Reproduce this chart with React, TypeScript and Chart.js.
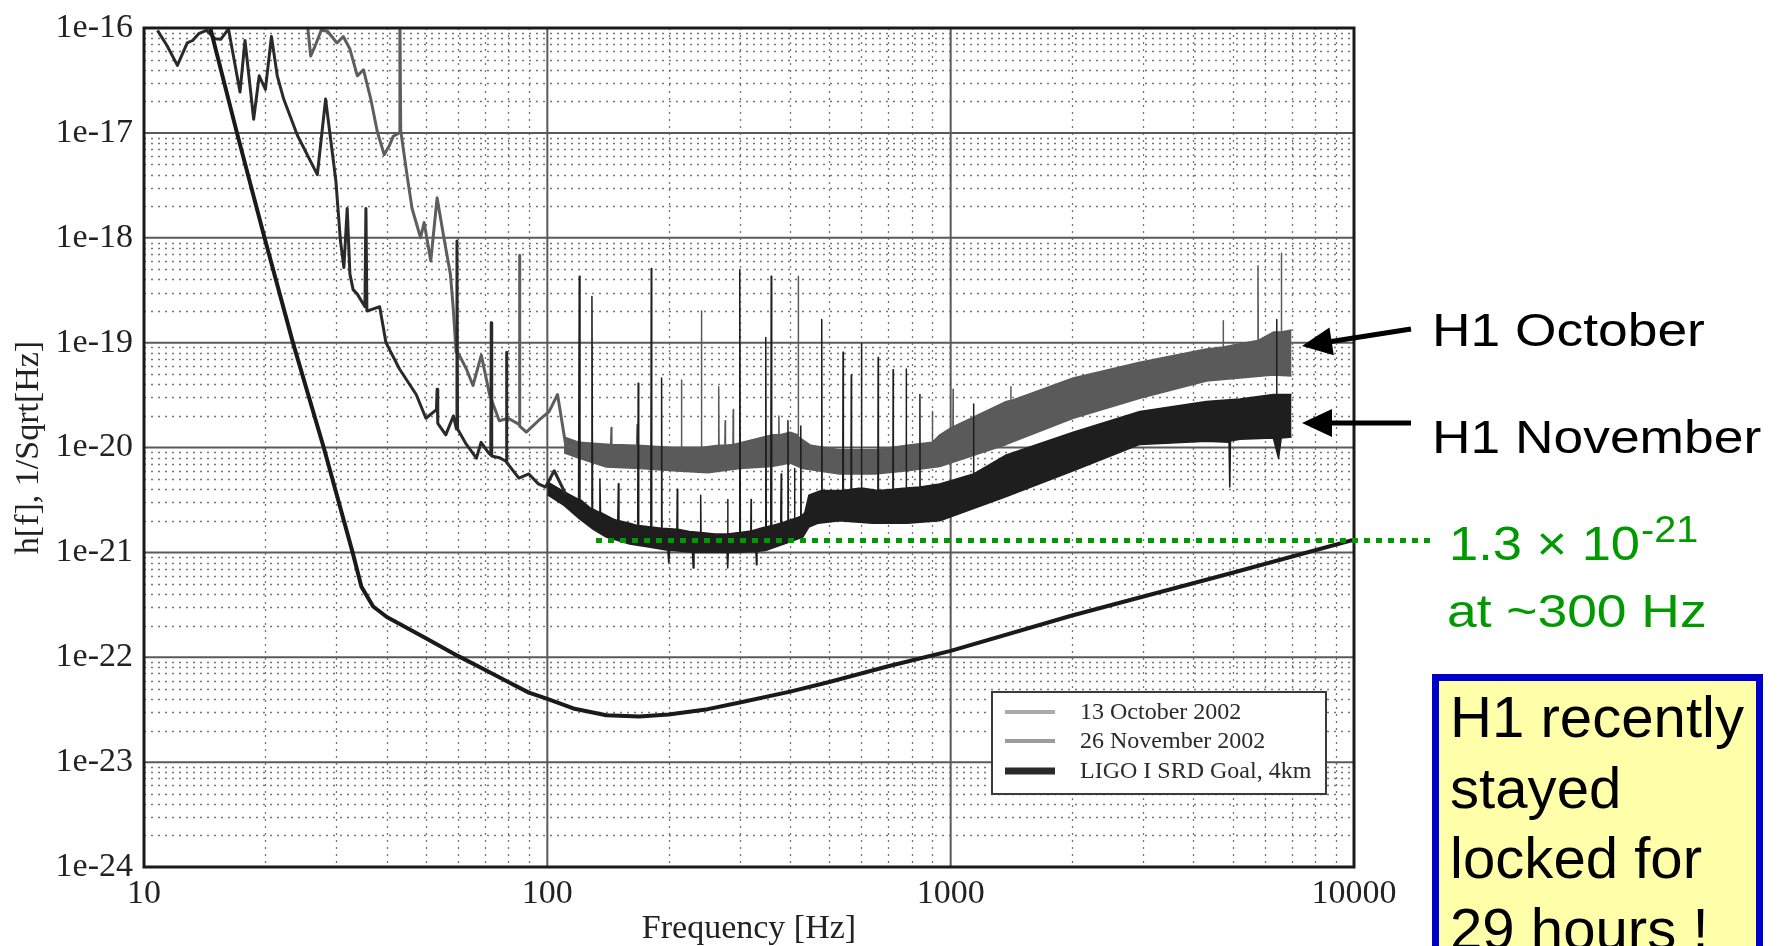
import { useEffect, useRef } from 'react';
import { Chart, registerables } from 'chart.js';

Chart.register(...registerables);

// ---------- axes ----------
const xTickValues = [10, 100, 1000, 10000];
const xTickLabels = ['10', '100', '1000', '10000'];
const yTickValues = [1e-24, 1e-23, 1e-22, 1e-21, 1e-20, 1e-19, 1e-18, 1e-17, 1e-16];
const yTickLabels = ['1e-24', '1e-23', '1e-22', '1e-21', '1e-20', '1e-19', '1e-18', '1e-17', '1e-16'];
const xTitle = 'Frequency [Hz]';
const yTitle = 'h[f], 1/Sqrt[Hz]';

// ---------- legend ----------
const seriesLabels = ['13 October 2002', '26 November 2002', 'LIGO I SRD Goal, 4km'];

// ---------- LIGO I SRD goal ----------
const goalPoints = [
  [14.6, 1.0e-16], [17.0, 1.0e-17], [19.9, 1.0e-18], [23.4, 1.0e-19], [27.9, 1.0e-20],
  [32.9, 1.0e-21], [34.6, 4.7e-22], [37.0, 3.05e-22], [40, 2.42e-22], [50, 1.52e-22],
  [60, 1.03e-22], [70, 7.6e-23], [80, 5.8e-23], [90, 4.6e-23], [100, 4.0e-23],
  [116, 3.25e-23], [140, 2.8e-23], [169, 2.72e-23], [200, 2.85e-23], [250, 3.2e-23],
  [300, 3.7e-23], [400, 4.7e-23], [500, 5.8e-23], [700, 8.2e-23], [1000, 1.15e-22],
  [2000, 2.5e-22], [5000, 6.4e-22], [10000, 1.32e-21],
];

// ---------- 26 November 2002 (H1) ----------
const novTrace = [
  [10.8, 9.5e-17], [11.4, 6.8e-17], [12.1, 4.4e-17], [12.8, 7.2e-17], [13.2, 7.6e-17],
  [13.7, 8.9e-17], [14.3, 9.5e-17], [15.0, 7.9e-17], [15.5, 7.8e-17], [16.2, 9.8e-17],
  [17.3, 2.45e-17], [17.8, 7.6e-17], [18.7, 1.35e-17], [19.3, 3.5e-17], [20.0, 2.6e-17],
  [20.7, 8.3e-17], [21.4, 3.5e-17], [22.2, 2.1e-17], [24.0, 9.5e-18], [26.9, 4.0e-18],
  [28.2, 2.1e-17], [29.9, 3.5e-18], [30.7, 9.3e-19], [31.3, 5.2e-19], [31.9, 1.9e-18],
  [32.4, 4.5e-19], [33.0, 3.2e-19], [33.8, 2.9e-19], [35.3, 2.2e-19], [35.5, 1.9e-18],
  [35.7, 2.0e-19], [38.4, 2.2e-19], [39.8, 1.0e-19], [43, 5.6e-20], [47.3, 3.2e-20],
  [50, 1.9e-20], [53.1, 2.3e-20], [53.3, 3.6e-20], [53.5, 1.7e-20], [56, 1.32e-20],
  [58.5, 2.0e-20], [59.5, 1.5e-20], [59.7, 9.3e-19], [59.9, 1.5e-20], [63, 1.07e-20],
  [66.7, 7.9e-21], [68.5, 1.12e-20], [71.5, 8.9e-21], [72.4, 8.5e-21], [72.6, 1.55e-19],
  [72.8, 8.3e-21], [76, 8.0e-21], [79.0, 7.4e-21], [79.2, 8.1e-20], [79.4, 7.2e-21],
  [85, 5.1e-21], [90, 5.6e-21], [95, 4.5e-21], [99, 4.2e-21], [104, 6.0e-21], [111, 3.6e-21],
];
const novUpper = [
  [100, 4.7e-21], [110, 3.8e-21], [119.5, 3.2e-21], [120, 4.3e-19], [120.5, 3.2e-21],
  [128.5, 2.6e-21], [129, 2.75e-19], [129.5, 2.6e-21], [134.5, 2.4e-21], [135, 5.0e-21],
  [135.5, 2.4e-21], [145, 2.1e-21], [149.5, 2.0e-21], [150, 4.5e-21], [150.5, 2.0e-21],
  [160, 1.9e-21], [167.5, 1.8e-21], [168, 4.1e-20], [168.5, 1.8e-21], [180.5, 1.75e-21],
  [181, 5.1e-19], [181.5, 1.75e-21], [191.5, 1.7e-21], [192, 4.6e-20], [192.5, 1.7e-21],
  [209.5, 1.66e-21], [210, 4.0e-21], [210.5, 1.66e-21], [225, 1.58e-21], [239.5, 1.55e-21],
  [240, 3.5e-21], [240.5, 1.55e-21], [260, 1.5e-21], [279.5, 1.5e-21], [280, 3.2e-21],
  [280.5, 1.5e-21], [299, 1.55e-21], [300, 4.9e-19], [301, 1.55e-21], [319.5, 1.6e-21],
  [320, 3.2e-21], [320.5, 1.6e-21], [347, 1.75e-21], [348, 1.12e-19], [349, 1.75e-21],
  [358, 1.8e-21], [359, 4.3e-19], [360, 1.8e-21], [379, 1.9e-21], [380, 5.6e-21],
  [381, 1.9e-21], [394, 2.0e-21], [395, 1.8e-20], [396, 2.0e-21], [409, 2.1e-21],
  [410, 6.3e-21], [411, 2.1e-21], [424, 2.2e-21], [425, 1.6e-20], [426, 2.2e-21],
  [435, 2.4e-21], [445, 3.5e-21], [478, 3.9e-21], [479, 1.66e-19], [480, 3.9e-21],
  [540, 3.9e-21], [541, 8.1e-20], [542, 3.9e-21], [566, 4.0e-21], [567, 4.9e-20],
  [568, 4.0e-21], [600, 4.1e-21], [601, 9.8e-20], [602, 4.1e-21], [660, 3.9e-21],
  [661, 7.2e-20], [662, 3.9e-21], [719, 4.0e-21], [720, 5.5e-20], [721, 4.0e-21],
  [775, 4.1e-21], [776, 5.6e-20], [777, 4.1e-21], [838, 4.2e-21], [839, 3.2e-20],
  [840, 4.2e-21], [940, 4.5e-21], [1139, 5.6e-21], [1140, 2.6e-20], [1141, 5.6e-21],
  [1374, 8.5e-21], [2013, 1.4e-20], [2945, 2.2e-20], [4306, 2.75e-20], [5210, 2.9e-20],
  [6310, 3.2e-20], [6420, 3.2e-20], [6430, 1.66e-19], [6440, 3.2e-20], [7000, 3.2e-20],
];
const novLower = [
  [100, 3.55e-21], [110, 2.8e-21], [120, 2.1e-21], [130, 1.66e-21], [140, 1.4e-21],
  [160, 1.2e-21], [180, 1.12e-21], [199, 1.05e-21], [200, 7.9e-22], [201, 1.05e-21],
  [229, 1.0e-21], [230, 7.1e-22], [231, 1.0e-21], [260, 1.0e-21], [279, 1.0e-21],
  [280, 7.1e-22], [281, 1.0e-21], [300, 1.0e-21], [329, 1.02e-21], [330, 7.6e-22],
  [331, 1.02e-21], [350, 1.05e-21], [400, 1.26e-21], [430, 1.4e-21], [445, 1.74e-21],
  [470, 1.9e-21], [530, 2.0e-21], [640, 1.9e-21], [780, 1.9e-21], [940, 2.0e-21],
  [1374, 3.4e-21], [2013, 6.0e-21], [2945, 1.07e-20], [4306, 1.15e-20], [4900, 1.12e-20],
  [4920, 4.2e-21], [4940, 1.15e-20], [5210, 1.2e-20], [6310, 1.23e-20], [6500, 7.9e-21],
  [6600, 1.23e-20], [7000, 1.26e-20],
];

// ---------- 13 October 2002 (H1) ----------
const octTrace = [
  [25.4, 1.12e-16], [25.9, 5.4e-17], [26.5, 6.6e-17], [27.5, 9.5e-17], [28.5, 9.3e-17],
  [30.1, 7.2e-17], [31.2, 8.3e-17], [32.4, 6.3e-17], [33.8, 3.5e-17], [35.0, 4.0e-17],
  [36.5, 2.1e-17], [37.9, 1.02e-17], [39.4, 6.2e-18], [40.6, 7.6e-18], [41.5, 9.3e-18],
  [42.9, 1.0e-17], [43.1, 1.26e-16], [43.3, 1.05e-17], [45.0, 3.7e-18], [46.2, 1.9e-18],
  [48.5, 1.0e-18], [49.5, 1.4e-18], [51.4, 6.0e-19], [53.3, 2.4e-18], [55.4, 1.0e-18],
  [57.5, 4.5e-19], [58.4, 2.2e-19], [59.4, 8.1e-20], [60.5, 7.6e-20], [63.0, 5.6e-20],
  [65.4, 3.9e-20], [68.6, 7.6e-20], [71.9, 3.2e-20], [76, 1.8e-20], [80, 1.9e-20],
  [85.1, 1.66e-20], [85.3, 6.8e-19], [85.5, 1.6e-20], [88.7, 1.4e-20], [95, 1.8e-20],
  [101, 2.2e-20], [106, 3.2e-20], [111, 1.07e-20], [122, 9.3e-21],
];
const octUpper = [
  [110, 1.26e-20], [120, 1.12e-20], [143.5, 1.07e-20], [144, 1.55e-20], [144.5, 1.07e-20],
  [166.5, 1.05e-20], [167, 1.66e-20], [167.5, 1.05e-20], [205, 1.0e-20], [214.5, 1.0e-20],
  [215, 4.4e-20], [215.5, 1.0e-20], [240.5, 1.0e-20], [241, 2.0e-19], [241.5, 1.0e-20],
  [265.5, 1.05e-20], [266, 3.8e-20], [266.5, 1.05e-20], [275.5, 1.05e-20], [276, 1.8e-20],
  [276.5, 1.05e-20], [288.5, 1.07e-20], [289, 2.3e-20], [289.5, 1.07e-20], [360, 1.32e-20],
  [374.5, 1.32e-20], [375, 2.0e-20], [375.5, 1.32e-20], [400, 1.4e-20], [418.5, 1.32e-20],
  [419, 4.3e-19], [419.5, 1.26e-20], [450, 1.05e-20], [530, 9.5e-21], [650, 9.5e-21],
  [780, 1.05e-20], [900, 1.12e-20], [901, 2.2e-20], [902, 1.12e-20], [940, 1.32e-20],
  [1013, 1.58e-20], [1014, 3.6e-20], [1015, 1.58e-20], [1374, 2.75e-20], [1409, 2.8e-20],
  [1410, 3.8e-20], [1411, 2.8e-20], [2013, 4.6e-20], [2945, 6.5e-20], [4306, 8.7e-20],
  [4735, 9.1e-20], [4740, 1.62e-19], [4745, 9.1e-20], [5770, 1.05e-19], [5780, 5.4e-19],
  [5790, 1.05e-19], [6310, 1.26e-19], [6600, 1.26e-19], [6607, 7.1e-19], [6615, 1.26e-19],
  [7000, 1.32e-19],
];
const octLower = [
  [110, 8.9e-21], [120, 7.9e-21], [140, 6.5e-21], [170, 6.3e-21], [205, 6.0e-21],
  [250, 5.75e-21], [300, 6.3e-21], [360, 6.6e-21], [400, 7.1e-21], [430, 6.3e-21],
  [530, 5.6e-21], [650, 5.6e-21], [780, 6.0e-21], [940, 6.6e-21], [1374, 1.07e-20],
  [2013, 1.9e-20], [2945, 2.95e-20], [4306, 4.3e-20], [6310, 4.9e-20], [7000, 4.8e-20],
];

// ---------- annotations ----------
const floorLevel = 1.3e-21;
const floorStartHz = 132;
const annOctober = 'H1 October';
const annNovember = 'H1 November';
const annFloorMain = '1.3 × 10';
const annFloorExp = '-21';
const annFloorSub = 'at ~300 Hz';
const boxLines = ['H1 recently', 'stayed', 'locked for', '29 hours !'];

const toXY = (pts: number[][]) => pts.map(([x, y]) => ({ x, y }));

function drawArrow(ctx: CanvasRenderingContext2D, x1: number, y1: number, x2: number, y2: number) {
  const headLen = 30;
  const headW = 28;
  const ang = Math.atan2(y2 - y1, x2 - x1);
  const c = Math.cos(ang);
  const s = Math.sin(ang);
  const bx = x2 - headLen * c;
  const by = y2 - headLen * s;
  ctx.lineWidth = 5;
  ctx.strokeStyle = '#000';
  ctx.fillStyle = '#000';
  ctx.beginPath();
  ctx.moveTo(x1, y1);
  ctx.lineTo(bx + 2 * c, by + 2 * s);
  ctx.stroke();
  ctx.beginPath();
  ctx.moveTo(x2, y2);
  ctx.lineTo(bx + (headW / 2) * s, by - (headW / 2) * c);
  ctx.lineTo(bx - (headW / 2) * s, by + (headW / 2) * c);
  ctx.closePath();
  ctx.fill();
}

function stretchedText(ctx: CanvasRenderingContext2D, text: string, x: number, y: number, sx: number) {
  ctx.save();
  ctx.translate(x, y);
  ctx.scale(sx, 1);
  ctx.fillText(text, 0, 0);
  ctx.restore();
}

const decorPlugin = {
  id: 'decor',
  beforeDatasetsDraw(chart: any) {
    const { ctx, chartArea: a, scales } = chart;
    const x = scales.x;
    const y = scales.y;
    ctx.save();
    ctx.beginPath();
    ctx.rect(a.left, a.top, a.right - a.left, a.bottom - a.top);
    ctx.clip();
    // minor dotted grid
    ctx.setLineDash([2, 5]);
    ctx.lineWidth = 1.3;
    ctx.strokeStyle = '#747474';
    for (let e = 1; e < 4; e++) {
      for (let k = 2; k <= 9; k++) {
        const px = Math.round(x.getPixelForValue(k * Math.pow(10, e))) + 0.5;
        ctx.beginPath();
        ctx.moveTo(px, a.top);
        ctx.lineTo(px, a.bottom);
        ctx.stroke();
      }
    }
    for (let e = -24; e < -16; e++) {
      for (let k = 2; k <= 9; k++) {
        const py = Math.round(y.getPixelForValue(k * Math.pow(10, e))) + 0.5;
        ctx.beginPath();
        ctx.moveTo(a.left, py);
        ctx.lineTo(a.right, py);
        ctx.stroke();
      }
    }
    // major grid
    ctx.setLineDash([]);
    ctx.lineWidth = 2;
    ctx.strokeStyle = '#5a5a5a';
    xTickValues.forEach((v) => {
      const px = x.getPixelForValue(v);
      ctx.beginPath();
      ctx.moveTo(px, a.top);
      ctx.lineTo(px, a.bottom);
      ctx.stroke();
    });
    yTickValues.forEach((v) => {
      const py = y.getPixelForValue(v);
      ctx.beginPath();
      ctx.moveTo(a.left, py);
      ctx.lineTo(a.right, py);
      ctx.stroke();
    });
    ctx.restore();
  },
  afterDatasetsDraw(chart: any) {
    const { ctx, chartArea: a } = chart;
    ctx.save();
    // frame
    ctx.lineWidth = 3;
    ctx.strokeStyle = '#1a1a1a';
    ctx.strokeRect(a.left, a.top, a.right - a.left, a.bottom - a.top);
    // legend box
    const lx = 992, ly = 692, lw = 334, lh = 102;
    ctx.fillStyle = '#ffffff';
    ctx.fillRect(lx, ly, lw, lh);
    ctx.lineWidth = 2;
    ctx.strokeStyle = '#3a3a3a';
    ctx.strokeRect(lx, ly, lw, lh);
    const legendStyles = [
      { color: '#ababab', width: 4 },
      { color: '#9c9c9c', width: 4 },
      { color: '#2a2a2a', width: 7 },
    ];
    const rowY = [712, 741, 771];
    ctx.font = '24px "Liberation Serif"';
    ctx.textBaseline = 'alphabetic';
    ctx.textAlign = 'left';
    seriesLabels.forEach((lab, i) => {
      ctx.strokeStyle = legendStyles[i].color;
      ctx.lineWidth = legendStyles[i].width;
      ctx.beginPath();
      ctx.moveTo(1005, rowY[i]);
      ctx.lineTo(1055, rowY[i]);
      ctx.stroke();
      ctx.fillStyle = '#2a2a2a';
      ctx.fillText(lab, 1080, rowY[i] + 7);
    });
    ctx.restore();
  },
  afterDraw(chart: any) {
    const { ctx, scales } = chart;
    const x = scales.x;
    const y = scales.y;
    ctx.save();
    // green noise floor line
    const gy = y.getPixelForValue(floorLevel);
    ctx.strokeStyle = '#009900';
    ctx.lineWidth = 5;
    ctx.setLineDash([6, 6]);
    ctx.beginPath();
    ctx.moveTo(x.getPixelForValue(floorStartHz), gy);
    ctx.lineTo(1436, gy);
    ctx.stroke();
    ctx.setLineDash([]);
    // arrows
    drawArrow(ctx, 1411, 329, 1302, 346);
    drawArrow(ctx, 1411, 423, 1302, 423);
    // labels
    ctx.fillStyle = '#000';
    ctx.textAlign = 'left';
    ctx.textBaseline = 'alphabetic';
    ctx.font = '46px "Liberation Sans"';
    stretchedText(ctx, annOctober, 1432, 346, 1.16);
    stretchedText(ctx, annNovember, 1432, 453, 1.16);
    // green text
    ctx.fillStyle = '#009900';
    ctx.save();
    ctx.translate(1449, 560);
    ctx.scale(1.07, 1);
    ctx.font = '49px "Liberation Sans"';
    ctx.fillText(annFloorMain, 0, 0);
    const w = ctx.measureText(annFloorMain).width;
    ctx.font = '37px "Liberation Sans"';
    ctx.fillText(annFloorExp, w + 1, -18);
    ctx.restore();
    ctx.font = '46px "Liberation Sans"';
    stretchedText(ctx, annFloorSub, 1447, 627, 1.16);
    // yellow note box
    ctx.fillStyle = '#ffffaa';
    ctx.fillRect(1435.5, 677.5, 324, 320);
    ctx.strokeStyle = '#0000cc';
    ctx.lineWidth = 7;
    ctx.strokeRect(1435.5, 677.5, 324, 320);
    ctx.fillStyle = '#000';
    ctx.font = '57px "Liberation Sans"';
    boxLines.forEach((t, i) => stretchedText(ctx, t, 1450, 737 + i * 70.5, 1.02));
    ctx.restore();
  },
};

export default function App() {
  const ref = useRef<HTMLCanvasElement>(null);
  useEffect(() => {
    const canvas = ref.current;
    if (!canvas) return;
    const common = { pointRadius: 0, tension: 0, clip: 0, borderJoinStyle: 'round' as const };
    const chart = new Chart(canvas, {
      type: 'line',
      data: {
        datasets: [
          { label: seriesLabels[2], data: toXY(goalPoints), borderColor: '#1a1a1a', borderWidth: 4, fill: false, ...common },
          { label: seriesLabels[1], data: toXY(novTrace), borderColor: '#2a2a2a', borderWidth: 3, fill: false, ...common },
          { label: seriesLabels[1] + ' upper', data: toXY(novUpper), borderColor: '#1e1e1e', backgroundColor: '#1e1e1e', borderWidth: 1.5, fill: '+1', ...common },
          { label: seriesLabels[1] + ' lower', data: toXY(novLower), borderColor: '#1e1e1e', borderWidth: 1.5, fill: false, ...common },
          { label: seriesLabels[0], data: toXY(octTrace), borderColor: '#5e5e5e', borderWidth: 3, fill: false, ...common },
          { label: seriesLabels[0] + ' upper', data: toXY(octUpper), borderColor: '#5a5a5a', backgroundColor: '#5a5a5a', borderWidth: 1.5, fill: '+1', ...common },
          { label: seriesLabels[0] + ' lower', data: toXY(octLower), borderColor: '#5a5a5a', borderWidth: 1.5, fill: false, ...common },
        ],
      },
      options: {
        responsive: false,
        animation: false,
        devicePixelRatio: 1,
        layout: { padding: { left: 0, right: 430, top: 19, bottom: 0 } },
        plugins: { legend: { display: false }, tooltip: { enabled: false } },
        elements: { point: { radius: 0 } },
        scales: {
          x: {
            type: 'logarithmic',
            position: 'bottom',
            min: 10,
            max: 10000,
            grid: { display: false, drawTicks: false },
            border: { display: false },
            afterBuildTicks: (s: any) => { s.ticks = xTickValues.map((v) => ({ value: v })); },
            afterFit: (s: any) => { s.height = 79; },
            ticks: {
              autoSkip: false, maxRotation: 0, minRotation: 0, padding: 10, color: '#222',
              font: { family: 'Liberation Serif', size: 34, lineHeight: 1 },
              callback: (_v: any, i: number) => xTickLabels[i],
            },
            title: {
              display: true, text: xTitle, color: '#222',
              font: { family: 'Liberation Serif', size: 34, lineHeight: 1 },
              padding: { top: 0, bottom: 0 },
            },
          },
          y: {
            type: 'logarithmic',
            position: 'left',
            min: 1e-24,
            max: 1e-16,
            grid: { display: false, drawTicks: false },
            border: { display: false },
            afterBuildTicks: (s: any) => { s.ticks = yTickValues.map((v) => ({ value: v })); },
            afterFit: (s: any) => { s.width = 144; },
            ticks: {
              autoSkip: false, padding: 11, color: '#222',
              font: { family: 'Liberation Serif', size: 34, lineHeight: 1 },
              callback: (_v: any, i: number) => yTickLabels[i],
            },
            title: {
              display: true, text: yTitle, color: '#222',
              font: { family: 'Liberation Serif', size: 34, lineHeight: 1 },
              padding: { top: 12, bottom: 0 },
            },
          },
        },
      },
      plugins: [decorPlugin],
    } as any);
    return () => chart.destroy();
  }, []);
  return (
    <div style={{ position: 'fixed', left: 0, top: 0, width: 1784, height: 946, background: '#fff', overflow: 'hidden' }}>
      <canvas ref={ref} width={1784} height={946} style={{ display: 'block', width: 1784, height: 946 }} />
    </div>
  );
}
